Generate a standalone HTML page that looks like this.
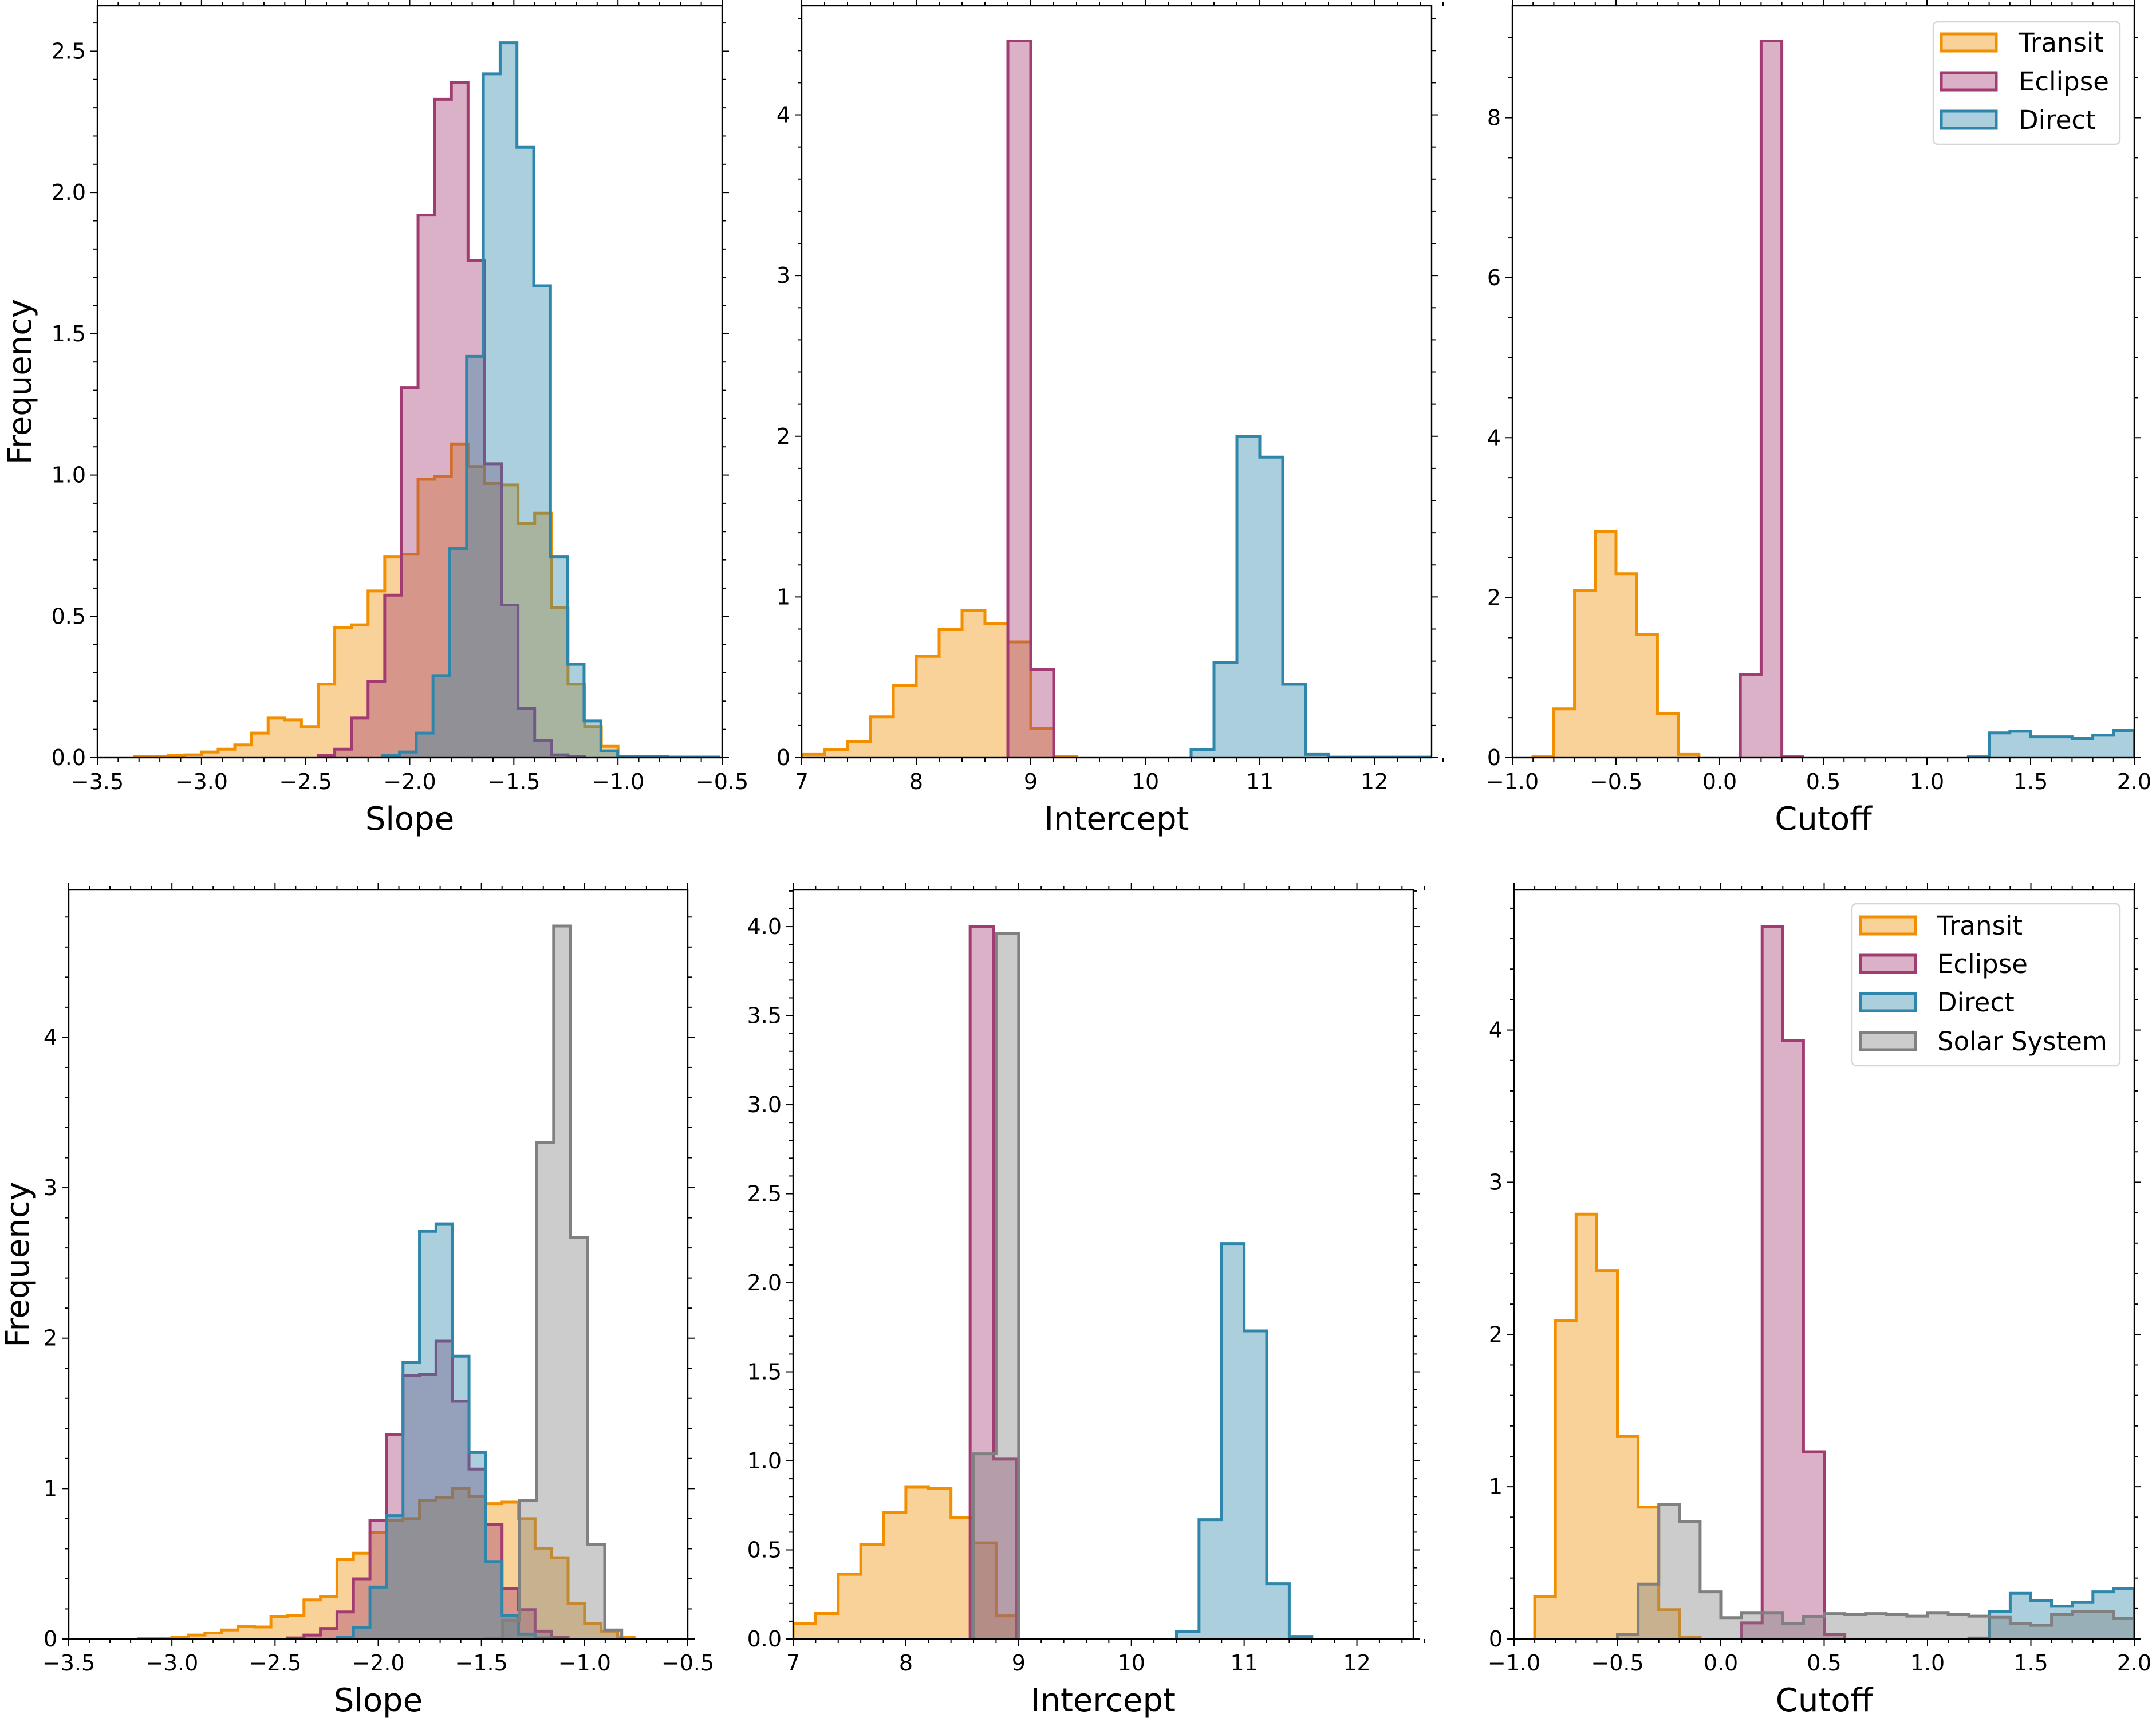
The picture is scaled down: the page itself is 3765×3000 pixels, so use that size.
<!DOCTYPE html>
<html><head><meta charset="utf-8"><style>
html,body{margin:0;padding:0;background:#fff}
svg{display:block;font-family:"DejaVu Sans","Liberation Sans",sans-serif}
</style></head><body>
<svg id="fig" width="3765" height="3000" viewBox="0 0 3765 3000" xmlns="http://www.w3.org/2000/svg"></svg>
<script>
// ---- data (bin start, bin width, frequencies) ----
const tlTransitStart=-3.32, tlTransitW=0.08;
const tlTransit=[0.003,0.005,0.007,0.01,0.02,0.03,0.045,0.087,0.14,0.134,0.11,0.26,0.46,0.47,0.59,0.71,0.72,0.985,0.995,1.11,1.03,0.97,0.965,0.83,0.865,0.53,0.26,0.11,0.04,0.003];
const tlEclipseStart=-2.44, tlEclipseW=0.08;
const tlEclipse=[0.007,0.03,0.14,0.27,0.575,1.31,1.92,2.33,2.39,1.76,1.04,0.54,0.174,0.06,0.01,0.003];
const tlDirectStart=-2.13, tlDirectW=0.0806;
const tlDirect=[0.007,0.02,0.087,0.29,0.74,1.42,2.42,2.53,2.16,1.67,0.71,0.33,0.13,0.024,0.003,0.003,0.003,0.002,0.002,0.002];

const tmTransitStart=7.0, tmTransitW=0.2;
const tmTransit=[0.02,0.05,0.1,0.254,0.45,0.63,0.80,0.915,0.835,0.72,0.18,0.006];
const tmEclipseStart=8.8, tmEclipseW=0.2;
const tmEclipse=[4.46,0.55];
const tmDirectStart=10.4, tmDirectW=0.2;
const tmDirect=[0.05,0.59,2.0,1.87,0.456,0.02,0.003,0.003,0.003,0.003,0.003];

const trTransitStart=-0.9, trTransitW=0.1;
const trTransit=[0.01,0.61,2.09,2.83,2.30,1.54,0.55,0.04];
const trEclipseStart=0.1, trEclipseW=0.1;
const trEclipse=[1.04,8.96,0.01];
const trDirectStart=1.2, trDirectW=0.1;
const trDirect=[0.01,0.31,0.33,0.26,0.26,0.24,0.28,0.34];

const blTransitStart=-3.16, blTransitW=0.08;
const blTransit=[0.003,0.005,0.013,0.026,0.04,0.06,0.085,0.08,0.15,0.155,0.26,0.28,0.53,0.57,0.71,0.79,0.8,0.92,0.94,1.0,0.95,0.9,0.91,0.8,0.6,0.54,0.235,0.104,0.052,0.013];
const blEclipseStart=-2.44, blEclipseW=0.08;
const blEclipse=[0.007,0.026,0.07,0.18,0.4,0.79,1.36,1.75,1.76,1.98,1.58,1.13,0.76,0.335,0.195,0.052,0.013];
const blDirectStart=-2.2, blDirectW=0.08;
const blDirect=[0.013,0.078,0.345,0.82,1.84,2.71,2.76,1.88,1.24,0.515,0.156,0.033,0.007];
const blSolarStart=-1.48, blSolarW=0.0825;
const blSolar=[0.005,0.124,0.92,3.30,4.74,2.67,0.63,0.06];

const bmTransitStart=7.0, bmTransitW=0.2;
const bmTransit=[0.088,0.143,0.363,0.53,0.71,0.852,0.847,0.68,0.54,0.13];
const bmEclipseStart=8.57, bmEclipseW=0.205;
const bmEclipse=[4.0,1.01];
const bmDirectStart=10.4, bmDirectW=0.2;
const bmDirect=[0.04,0.67,2.22,1.73,0.31,0.014];
const bmSolarStart=8.6, bmSolarW=0.2;
const bmSolar=[1.04,3.96];

const brTransitStart=-0.9, brTransitW=0.1;
const brTransit=[0.28,2.09,2.79,2.42,1.33,0.866,0.193,0.013];
const brEclipseStart=0.1, brEclipseW=0.1;
const brEclipse=[0.106,4.68,3.93,1.23,0.03];
const brDirectStart=1.2, brDirectW=0.1;
const brDirect=[0.006,0.18,0.30,0.25,0.215,0.24,0.31,0.33];
const brSolarStart=-0.5, brSolarW=0.1;
const brSolar=[0.032,0.36,0.885,0.77,0.31,0.14,0.17,0.17,0.10,0.145,0.167,0.16,0.167,0.16,0.15,0.17,0.16,0.15,0.142,0.10,0.09,0.16,0.18,0.18,0.135];

const slopeTicks=[-3.5,-3.0,-2.5,-2.0,-1.5,-1.0,-0.5];
const interceptTicks=[7,8,9,10,11,12];
const cutoffTicks=[-1.0,-0.5,0.0,0.5,1.0,1.5,2.0];

const COL={transit:'#F18F01',eclipse:'#A23B72',direct:'#2E86AB',solar:'#808080'};
const NS='http://www.w3.org/2000/svg';
const svg=document.getElementById('fig');
function mk(tag,attrs,parent){const e=document.createElementNS(NS,tag);for(const k in attrs)e.setAttribute(k,attrs[k]);(parent||svg).appendChild(e);return e;}
function fmt(v,dec){let s=v.toFixed(dec);return s.replace('-','\u2212');}

const panels=[
 {id:'tl',x0:170,x1:1261,y0:10,y1:1323,xd:[-3.5,-0.5],yd:[0,2.661],xt:slopeTicks,xdec:1,xminor:0.1,yt:[0,0.5,1,1.5,2,2.5],ydec:1,yminor:0.1,xl:'Slope',yl:true,
  series:[['transit',tlTransitStart,tlTransitW,tlTransit],['eclipse',tlEclipseStart,tlEclipseW,tlEclipse],['direct',tlDirectStart,tlDirectW,tlDirect]]},
 {id:'tm',x0:1400,x1:2500,y0:10,y1:1323,xd:[7,12.5],yd:[0,4.679],xt:interceptTicks,xdec:0,xminor:0.2,yt:[0,1,2,3,4],ydec:0,yminor:0.2,xl:'Intercept',
  series:[['transit',tmTransitStart,tmTransitW,tmTransit],['eclipse',tmEclipseStart,tmEclipseW,tmEclipse],['direct',tmDirectStart,tmDirectW,tmDirect]]},
 {id:'tr',x0:2641,x1:3727,y0:10,y1:1323,xd:[-1,2],yd:[0,9.40],xt:cutoffTicks,xdec:1,xminor:0.1,yt:[0,2,4,6,8],ydec:0,yminor:0.5,xl:'Cutoff',
  legend:{x:3376,y:38,w:326,h:214,rows:[74,142,209],px:3390,tx:3525,items:['transit','eclipse','direct']},
  series:[['transit',trTransitStart,trTransitW,trTransit],['eclipse',trEclipseStart,trEclipseW,trEclipse],['direct',trDirectStart,trDirectW,trDirect]]},
 {id:'bl',x0:120,x1:1201,y0:1554,y1:2862,xd:[-3.5,-0.5],yd:[0,4.98],xt:slopeTicks,xdec:1,xminor:0.1,yt:[0,1,2,3,4],ydec:0,yminor:0.2,xl:'Slope',yl:true,
  series:[['transit',blTransitStart,blTransitW,blTransit],['eclipse',blEclipseStart,blEclipseW,blEclipse],['direct',blDirectStart,blDirectW,blDirect],['solar',blSolarStart,blSolarW,blSolar]]},
 {id:'bm',x0:1385,x1:2468,y0:1554,y1:2862,xd:[7,12.5],yd:[0,4.206],xt:interceptTicks,xdec:0,xminor:0.2,yt:[0,0.5,1,1.5,2,2.5,3,3.5,4],ydec:1,yminor:0.1,xl:'Intercept',
  series:[['transit',bmTransitStart,bmTransitW,bmTransit],['eclipse',bmEclipseStart,bmEclipseW,bmEclipse],['direct',bmDirectStart,bmDirectW,bmDirect],['solar',bmSolarStart,bmSolarW,bmSolar]]},
 {id:'br',x0:2644,x1:3727,y0:1554,y1:2862,xd:[-1,2],yd:[0,4.92],xt:cutoffTicks,xdec:1,xminor:0.1,yt:[0,1,2,3,4],ydec:0,yminor:0.2,xl:'Cutoff',
  legend:{x:3234,y:1578,w:468,h:283,rows:[1616,1683,1750,1818],px:3249,tx:3383,items:['transit','eclipse','direct','solar']},
  series:[['transit',brTransitStart,brTransitW,brTransit],['eclipse',brEclipseStart,brEclipseW,brEclipse],['direct',brDirectStart,brDirectW,brDirect],['solar',brSolarStart,brSolarW,brSolar]]}
];
const NAMES={transit:'Transit',eclipse:'Eclipse',direct:'Direct',solar:'Solar System'};

panels.forEach(p=>{
  const X=v=>p.x0+(v-p.xd[0])/(p.xd[1]-p.xd[0])*(p.x1-p.x0);
  const Y=v=>p.y1-(v-p.yd[0])/(p.yd[1]-p.yd[0])*(p.y1-p.y0);
  const g=mk('g',{});
  
  
  const defs=mk('defs',{},g);
  const cp=mk('clipPath',{id:'clip-'+p.id},defs);
  mk('rect',{x:p.x0,y:p.y0,width:p.x1-p.x0,height:p.y1-p.y0},cp);
  const plot=mk('g',{'clip-path':'url(#clip-'+p.id+')'},g);
  p.series.forEach(s=>{
    const [key,start,w,vals]=s;
    let d='M'+X(start)+','+Y(0);
    vals.forEach((v,i)=>{d+=' L'+X(start+i*w)+','+Y(v)+' L'+X(start+(i+1)*w)+','+Y(v);});
    d+=' L'+X(start+vals.length*w)+','+Y(0);
    const f=mk('path',{d:d+' Z',fill:COL[key],'fill-opacity':0.4,stroke:'none'},plot);
    
    
    const l=mk('path',{d:d,fill:'none',stroke:COL[key],'stroke-width':5,'stroke-linejoin':'miter'},plot);
    
    
  });
  const fr=mk('rect',{x:p.x0,y:p.y0,width:p.x1-p.x0,height:p.y1-p.y0,fill:'none',stroke:'#000','stroke-width':2.4},g);
  
  
  const tk=mk('g',{stroke:'#000','stroke-width':2},g);
  const nx=Math.round((p.xd[1]-p.xd[0])/p.xminor);
  for(let i=0;i<=nx;i++){const v=p.xd[0]+i*p.xminor,x=X(v);
    const major=p.xt.some(t=>Math.abs(t-v)<1e-6);const L=major?12:7;
    mk('line',{x1:x,x2:x,y1:p.y1,y2:p.y1+L},tk);mk('line',{x1:x,x2:x,y1:p.y0,y2:p.y0-L},tk);}
  const ny=Math.floor((p.yd[1]-p.yd[0])/p.yminor+1e-6);
  for(let i=0;i<=ny;i++){const v=p.yd[0]+i*p.yminor,y=Y(v);
    const major=p.yt.some(t=>Math.abs(t-v)<1e-6);const L=major?12:7;
    mk('line',{x1:p.x0,x2:p.x0-L,y1:y,y2:y},tk);mk('line',{x1:p.x1,x2:p.x1+L,y1:y,y2:y},tk);}
  p.xt.forEach(v=>{const t=mk('text',{x:X(v),y:p.y1+55,'font-size':38,'text-anchor':'middle'},g);t.textContent=fmt(v,p.xdec);
    });
  p.yt.forEach(v=>{const t=mk('text',{x:p.x0-20,y:Y(v)+13,'font-size':38,'text-anchor':'end'},g);t.textContent=fmt(v,p.ydec);
    });
  const xl=mk('text',{x:(p.x0+p.x1)/2,y:p.y1+126,'font-size':56,'text-anchor':'middle'},g);xl.textContent=p.xl;
  
  if(p.yl){const cy=(p.y0+p.y1)/2,cx=p.id==='tl'?54:50;
    const yl=mk('text',{x:cx,y:cy,'font-size':56,'text-anchor':'middle',transform:'rotate(-90 '+cx+' '+cy+')'},g);yl.textContent='Frequency';
    }
  if(p.legend){const L=p.legend;const lg=mk('g',{},g);
    
    mk('rect',{x:L.x,y:L.y,width:L.w,height:L.h,rx:8,fill:'#fff','fill-opacity':0.8,stroke:'#d6d6d6','stroke-width':2.4},lg);
    L.items.forEach((k,i)=>{const e=mk('g',{},lg);
      
      mk('rect',{x:L.px,y:L.rows[i]-15,width:96,height:30,fill:COL[k],'fill-opacity':0.4,stroke:COL[k],'stroke-width':5},e);
      const t=mk('text',{x:L.tx,y:L.rows[i]+16,'font-size':45},e);t.textContent=NAMES[k];});
  }
});
</script>
</body></html>
